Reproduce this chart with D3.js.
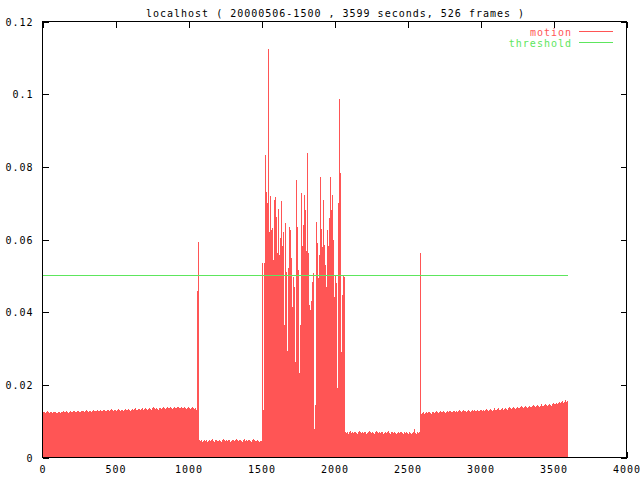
<!DOCTYPE html>
<html>
<head>
<meta charset="utf-8">
<script src="https://cdn.jsdelivr.net/npm/d3@7"></script>
<style>
  html, body { margin: 0; padding: 0; background: #fff; }
  svg { display: block; }
  text { font-family: "DejaVu Sans Mono", "Liberation Mono", monospace; font-size: 10px; letter-spacing: 1px; }
</style>
</head>
<body>
<svg id="chart" width="640" height="480"></svg>
<script>
// ---------------- data ----------------
const titleText = "localhost ( 20000506-1500 , 3599 seconds, 526 frames )";
const totalSeconds = 3599;
const frameCount = 526;
const threshold = 0.05;
const seriesNames = ["motion", "threshold"];
const xTicks = [0, 500, 1000, 1500, 2000, 2500, 3000, 3500, 4000];
const yTicks = [0, 0.02, 0.04, 0.06, 0.08, 0.1, 0.12];

// motion per frame, in segments
const motionQuietA = [
  0.0124,0.0126,0.0125,0.0123,0.0125,0.0127,0.0124,0.0122,0.0124,0.0125,0.0123,0.0124,0.0126,0.0124,0.0122,0.0123,0.0125,0.0124,0.0123,0.0126,
  0.0125,0.0127,0.0124,0.0126,0.0128,0.0125,0.0123,0.0126,0.0127,0.0125,0.0124,0.0127,0.0129,0.0126,0.0125,0.0128,0.0127,0.0124,0.0126,0.0128,
  0.0127,0.0129,0.0126,0.0128,0.0130,0.0127,0.0126,0.0129,0.0128,0.0126,0.0128,0.0131,0.0128,0.0127,0.0129,0.0130,0.0127,0.0128,0.0131,0.0129,
  0.0128,0.0130,0.0132,0.0129,0.0127,0.0130,0.0131,0.0128,0.0130,0.0133,0.0130,0.0128,0.0131,0.0132,0.0129,0.0131,0.0133,0.0130,0.0129,0.0132,
  0.0131,0.0129,0.0132,0.0134,0.0131,0.0130,0.0133,0.0131,0.0129,0.0132,0.0134,0.0131,0.0133,0.0135,0.0132,0.0130,0.0133,0.0134,0.0131,0.0133,
  0.0135,0.0132,0.0134,0.0136,0.0133,0.0131,0.0134,0.0137,0.0134,0.0132,0.0135,0.0138,0.0135,0.0133,0.0136,0.0134,0.0132,0.0135,0.0137,0.0134,
  0.0136,0.0139,0.0135,0.0133,0.0136,0.0138,0.0135,0.0137,0.0140,0.0136,0.0134,0.0137,0.0139,0.0136,0.0135,0.0138,0.0140,0.0137,0.0135,0.0138,
  0.0137,0.0135,0.0138,0.0136,0.0134,0.0137,0.0139,0.0136,0.0134,0.0136,0.0138,0.0135,0.0133,0.0136,0.0131
];
const motionSpikeA = [0.0457, 0.0594];
const motionQuietB = [
  0.0047,0.0045,0.0048,0.0044,0.0046,0.0049,0.0045,0.0047,0.0043,0.0046,0.0048,0.0045,0.0047,0.0050,0.0046,0.0044,0.0047,0.0049,0.0046,0.0045,
  0.0048,0.0046,0.0044,0.0047,0.0050,0.0047,0.0045,0.0048,0.0046,0.0049,0.0047,0.0044,0.0046,0.0049,0.0047,0.0045,0.0048,0.0051,0.0047,0.0045,
  0.0047,0.0049,0.0046,0.0044,0.0047,0.0050,0.0046,0.0048,0.0045,0.0047,0.0049,0.0046,0.0044,0.0047,0.0050,0.0047,0.0045,0.0046,0.0048,0.0045,
  0.0044,0.0046,0.0045
];
const motionBusy = [
  0.0535,0.0131,0.0535,0.0832,0.0732,0.0700,0.1124,0.0622,0.0720,0.0625,
  0.0632,0.0544,0.0710,0.0718,0.0662,0.0562,0.0683,0.0557,0.0603,0.0706,
  0.0581,0.0622,0.0365,0.0645,0.0510,0.0292,0.0521,0.0634,0.0627,0.0548,
  0.0415,0.0498,0.0470,0.0264,0.0764,0.0635,0.0516,0.0232,0.0365,0.0727,
  0.0581,0.0640,0.0723,0.0680,0.0567,0.0837,0.0562,0.0420,0.0406,0.0430,
  0.0484,0.0507,0.0079,0.0145,0.0649,0.0590,0.0494,0.0558,0.0772,0.0630,
  0.0580,0.0709,0.0585,0.0530,0.0470,0.0626,0.0581,0.0660,0.0772,0.0681,
  0.0723,0.0599,0.0443,0.0500,0.0480,0.0191,0.0700,0.0988,0.0782,0.0290,
  0.0448,0.0500,0.0498
];
const motionQuietC = [
  0.0071,0.0068,0.0070,0.0066,0.0069,0.0072,0.0068,0.0070,0.0067,0.0069,0.0071,0.0068,0.0066,0.0069,0.0072,0.0069,0.0067,0.0070,0.0068,0.0071,
  0.0069,0.0066,0.0068,0.0071,0.0073,0.0069,0.0067,0.0070,0.0068,0.0066,0.0069,0.0072,0.0069,0.0067,0.0070,0.0068,0.0071,0.0069,0.0066,0.0068,
  0.0070,0.0067,0.0069,0.0072,0.0068,0.0066,0.0069,0.0071,0.0068,0.0070,0.0067,0.0065,0.0068,0.0070,0.0067,0.0069,0.0071,0.0068,0.0066,0.0069,
  0.0067,0.0070,0.0068,0.0066,0.0069,0.0067,0.0065,0.0068,0.0070,0.0079,0.0068,0.0066,0.0069,0.0067,0.0070
];
const motionSpikeB = [0.0564];
const motionQuietD = [
  0.0119,0.0122,0.0124,0.0121,0.0123,0.0125,0.0122,0.0124,0.0126,0.0123,0.0121,0.0124,0.0126,0.0123,0.0125,0.0127,0.0124,0.0122,0.0125,0.0127,
  0.0124,0.0126,0.0128,0.0125,0.0123,0.0126,0.0128,0.0125,0.0127,0.0129,0.0126,0.0124,0.0127,0.0129,0.0126,0.0128,0.0125,0.0127,0.0130,0.0127,
  0.0125,0.0128,0.0130,0.0127,0.0129,0.0126,0.0128,0.0131,0.0128,0.0126,0.0129,0.0131,0.0128,0.0130,0.0127,0.0129,0.0132,0.0129,0.0127,0.0130,
  0.0132,0.0129,0.0131,0.0128,0.0130,0.0133,0.0130,0.0128,0.0131,0.0134,0.0131,0.0129,0.0132,0.0135,0.0132,0.0130,0.0133,0.0136,0.0132,0.0130,
  0.0133,0.0135,0.0132,0.0134,0.0137,0.0134,0.0132,0.0135,0.0138,0.0135,0.0133,0.0136,0.0139,0.0136,0.0134,0.0137,0.0140,0.0137,0.0135,0.0138,
  0.0141,0.0138,0.0136,0.0139,0.0142,0.0139,0.0137,0.0140,0.0143,0.0140,0.0138,0.0141,0.0144,0.0141,0.0139,0.0142,0.0145,0.0142,0.0140,0.0143,
  0.0146,0.0143,0.0141,0.0144,0.0147,0.0144,0.0142,0.0145,0.0148,0.0145,0.0143,0.0146,0.0149,0.0146,0.0148,0.0151,0.0147,0.0150,0.0153,0.0150,
  0.0152,0.0155,0.0151,0.0154,0.0157,0.0153,0.0156
];

const motion = [].concat(motionQuietA, motionSpikeA, motionQuietB, motionBusy,
                         motionQuietC, motionSpikeB, motionQuietD);
const frameStep = totalSeconds / (frameCount - 1);
const frames = motion.map((v, i) => ({ t: i * frameStep, v }));

// ---------------- drawing ----------------
const RED = "#ff5555";
const GREEN = "#5de65d";
const svg = d3.select("#chart");
const L = 42.5, R = 626.5, T = 21.5, B = 457.5;

const xs = d3.scaleLinear().domain([0, 4000]).range([L, R]);
const ys = d3.scaleLinear().domain([0, 0.12]).range([B, T]);

const fmtY = v => v === 0 ? "0" : String(+v.toFixed(2));

function styleAxis(g) {
  g.select(".domain").remove();
  g.selectAll("line").attr("stroke", "#000").attr("shape-rendering", "crispEdges");
  g.selectAll("text").attr("fill", "#000")
    .style("font-family", '"DejaVu Sans Mono", monospace')
    .style("font-size", "10px").style("letter-spacing", "1px");
  g.attr("font-size", null).attr("font-family", null);
}

// ticks (drawn first, data covers them like in gnuplot)
svg.append("g").attr("transform", `translate(0,${B})`)
  .call(d3.axisBottom(xs).tickValues(xTicks).tickSize(-6).tickSizeOuter(0).tickPadding(8).tickFormat(d3.format("d")))
  .call(styleAxis);
svg.append("g").attr("transform", `translate(0,${T})`)
  .call(d3.axisTop(xs).tickValues(xTicks).tickSize(-6).tickSizeOuter(0).tickFormat(""))
  .call(styleAxis);
const yAx = svg.append("g").attr("transform", `translate(${L},0)`)
  .call(d3.axisLeft(ys).tickValues(yTicks).tickSize(-6).tickSizeOuter(0).tickPadding(9).tickFormat(fmtY))
  .call(styleAxis);
yAx.selectAll("text").attr("dy", "0.36em");
svg.append("g").attr("transform", `translate(${R},0)`)
  .call(d3.axisRight(ys).tickValues(yTicks).tickSize(-6).tickSizeOuter(0).tickFormat(""))
  .call(styleAxis);

// impulses
const barW = xs(frameStep) - xs(0);
svg.append("g").attr("shape-rendering", "crispEdges")
  .selectAll("rect").data(frames).join("rect")
  .attr("x", d => xs(d.t) - 0.5)
  .attr("width", barW)
  .attr("y", d => ys(d.v))
  .attr("height", d => ys(0) - ys(d.v))
  .attr("fill", RED);

// threshold line
svg.append("line")
  .attr("x1", xs(0)).attr("x2", xs(totalSeconds))
  .attr("y1", Math.floor(ys(threshold)) + 0.5).attr("y2", Math.floor(ys(threshold)) + 0.5)
  .attr("stroke", GREEN).attr("stroke-width", 1).attr("shape-rendering", "crispEdges");

// border
svg.append("rect")
  .attr("x", L).attr("y", T).attr("width", R - L).attr("height", B - T)
  .attr("fill", "none").attr("stroke", "#000").attr("stroke-width", 1)
  .attr("shape-rendering", "crispEdges");

// title
svg.append("text")
  .attr("x", (L + R) / 2 + 1).attr("y", 16.5)
  .attr("text-anchor", "middle").attr("fill", "#000")
  .text(titleText);

// legend
const legColors = [RED, GREEN];
const leg = svg.append("g");
seriesNames.forEach((name, i) => {
  const yy = 31.5 + i * 11;
  leg.append("text").attr("x", 572).attr("y", yy + 4)
    .attr("text-anchor", "end").attr("fill", legColors[i]).text(name);
  leg.append("line").attr("x1", 579).attr("x2", 613).attr("y1", yy).attr("y2", yy)
    .attr("stroke", legColors[i]).attr("stroke-width", 1).attr("shape-rendering", "crispEdges");
});
</script>
</body>
</html>
